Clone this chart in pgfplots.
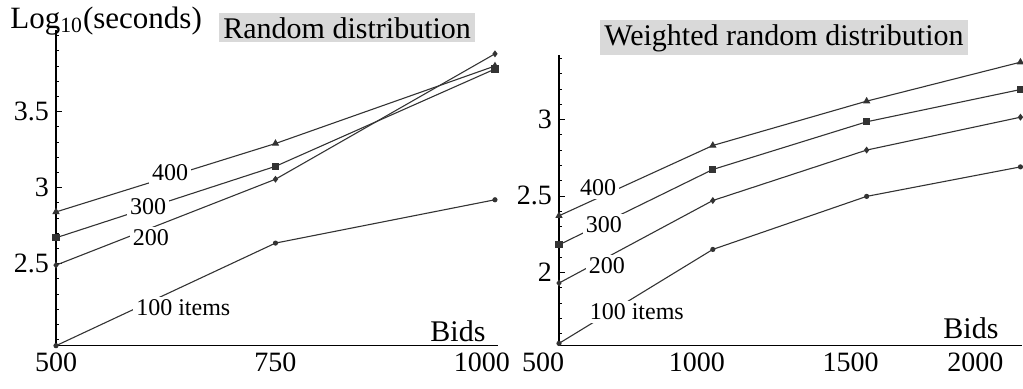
\documentclass[border=0pt]{standalone}
\usepackage{fontspec}
\setmainfont{Liberation Serif}
\usepackage{pgfplots}
\pgfplotsset{compat=1.18}

\begin{document}
\begin{tikzpicture}[x=1pt,y=1pt]
\tikzset{lbl/.style={fill=white, inner sep=1.5pt, font=\fontsize{12}{14}\selectfont}}
\pgfplotsset{
 mystyle/.style={
  scale only axis,
  axis lines=left,
  axis line style={-, black, line width=0.7pt},
  tick align=inside,
  major tick length=3pt,
  minor tick length=1.6pt,
  every tick/.style={black, line width=0.4pt},
  xtick style={draw=none},
  ticklabel style={font=\fontsize{14}{16}\selectfont},
  /pgf/number format/assume math mode=true,
  /pgf/number format/1000 sep={},
  scaled ticks=false,
  clip=false,
  anchor=south west,
  every axis plot/.append style={line width=0.55pt, black!80},
 },
}

% ---------------- Left panel: Random distribution ----------------
\begin{axis}[mystyle, at={(28pt,21.15pt)}, width=220.8pt, height=158.1pt,
  xmin=500, xmax=1003, ymin=1.96, ymax=4.04,
  xtick={500,750,1000}, xticklabels={500,750,{\hspace*{-13pt}1000}},
  ytick={2.5,3,3.5}, minor ytick={2.0,2.1,...,4.0}]
\addplot[mark=triangle*, mark size=1.6pt] coordinates {(500,2.84) (750,3.29) (1000,3.80)};
\addplot[mark=square*, mark size=1.5pt] coordinates {(500,2.67) (750,3.14) (1000,3.78)};
\addplot[mark=diamond*, mark size=1.3pt] coordinates {(500,2.49) (750,3.055) (1000,3.88)};
\addplot[mark=*, mark size=1pt] coordinates {(500,1.96) (750,2.635) (1000,2.92)};
\node[lbl] at (axis cs:630,3.10) {400};
\node[lbl] at (axis cs:605,2.872) {300};
\node[lbl] at (axis cs:608,2.669) {200};
\node[lbl] at (axis cs:645,2.208) {100 items};
\end{axis}

% ---------------- Right panel: Weighted random distribution ----------------
\begin{axis}[mystyle, at={(279.5pt,21.15pt)}, width=231.5pt, height=145.2pt,
  xmin=500, xmax=2005, ymin=1.52, ymax=3.42,
  xtick={500,1000,1500,2000}, xticklabels={500,1000,1500,{\hspace*{-29pt}2000}},
  xticklabel style={xshift=-8pt},
  ytick={2,2.5,3}, minor ytick={1.6,1.7,...,3.4}]
\addplot[mark=triangle*, mark size=1.6pt] coordinates {(500,2.37) (1000,2.83) (1500,3.12) (2000,3.375)};
\addplot[mark=square*, mark size=1.5pt] coordinates {(500,2.18) (1000,2.673) (1500,2.985) (2000,3.196)};
\addplot[mark=diamond*, mark size=1.3pt] coordinates {(500,1.93) (1000,2.47) (1500,2.80) (2000,3.015)};
\addplot[mark=*, mark size=1pt] coordinates {(500,1.535) (1000,2.15) (1500,2.497) (2000,2.69)};
\node[lbl] at (axis cs:627,2.552) {400};
\node[lbl] at (axis cs:646,2.31) {300};
\node[lbl] at (axis cs:656,2.042) {200};
\node[lbl] at (axis cs:753,1.741) {100 items};
\end{axis}

% ---------------- Titles and axis labels ----------------
\node[anchor=base west, inner sep=0pt, font=\fontsize{15.5}{18}\selectfont] at (5pt,180pt) {Log$_{\mathrm{10}}$(seconds)};
\node[anchor=base west, inner sep=2pt, fill=black!15, font=\fontsize{15}{18}\selectfont] at (109.5pt,175pt) {Random distribution};
\node[anchor=base west, inner sep=2pt, fill=black!15, font=\fontsize{15}{18}\selectfont] at (300pt,171.5pt) {Weighted random distribution};
\node[anchor=base west, inner sep=0pt, font=\fontsize{15}{18}\selectfont] at (215pt,23.2pt) {Bids};
\node[anchor=base west, inner sep=0pt, font=\fontsize{15}{18}\selectfont] at (471.5pt,25pt) {Bids};

\pgfresetboundingbox
\useasboundingbox (0,0) rectangle (511.5pt,194pt);
\end{tikzpicture}
\end{document}
